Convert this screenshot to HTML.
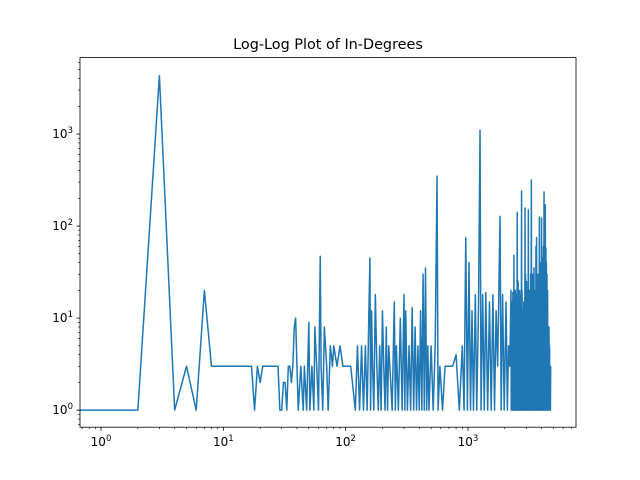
<!DOCTYPE html>
<html><head><meta charset="utf-8"><style>
body{margin:0;background:#fff}
svg{display:block;font-family:"DejaVu Sans","Liberation Sans",sans-serif}
</style></head><body>
<svg id="chart" width="640" height="480">
<text x="328" y="49" text-anchor="middle" font-size="14.4">Log-Log Plot of In-Degrees</text>
<g id="plot"></g>
</svg>
<script>
const xVals=[0.5,1,2,3,4,5,6,7,8,9,10,12,14,17,18,19,20,21,22,24,26,28,29,30,31,32,33,34,35,36,37,38,39,40,41,43,45,46,48,50,51,53,55,56,58,60,62,63,65,67,70,72,75,78,80,85,90,95,100,110,120,125,130,135,140,145,150,155,158,160,163,166,170,175,180,185,190,195,200,205,210,215,220,225,230,240,250,255,260,270,280,290,300,305,310,320,330,340,350,360,370,380,390,400,410,420,430,440,450,460,470,480,500,520,540,559,570,590,620,650,700,750,800,850,900,930,960,990,1020,1050,1080,1110,1150,1180,1220,1256,1280,1320,1360,1400,1450,1500,1550,1600,1650,1700,1750,1830,1870,1920,1980,2050,2100,2150,2200,
2250,2260,2270,2280,2290,2300,2310,2320,2330,2340,2350,2365,2377,2390,2400,2410,2420,2430,2440,2450,2460,2470,2480,2490,2500,2515,2530,2545,2555,2565,2576,2590,2600,2612,2625,2637,2650,2665,2680,2695,2710,2727,2745,2757,2770,2785,2800,2815,2830,2845,2860,2875,2890,2910,2930,2945,2960,2975,2990,3005,3020,3035,3050,3065,3080,3100,3120,3137,3155,3172,3190,3205,3220,3240,3260,3280,3300,3325,3350,3370,3390,3410,3430,3450,3470,3490,3510,3535,3560,3580,3600,3620,3640,3665,3690,3715,3740,3765,3790,3815,3840,3870,3900,3925,3950,3975,4000,4020,4040,4065,4090,4115,4140,4165,4190,4215,4240,4265,4290,4315,4340,4360,4380,4405,4430,4455,4480,4510,4540,4570,4600,4625,4650,4675,4700,4725,4750,4775,4800,4825,4850,4875,4900,4925,4950,4975,5000,5025,5050,5075,5100,5125,5150];
const yVals=[1,1,1,4300,1,3,1,20,3,3,3,3,3,3,1,3,2,3,3,3,3,3,1,1,2,2,1,3,3,2,3,8,10,3,1,3,1,3,1,9,1,3,1,8,3,1,47,3,1,8,3,1,5,3,5,3,5,3,3,3,1,5,1,5,1,5,1,12,45,1,12,3,1,18,3,1,5,1,12,3,1,8,1,5,3,1,15,1,5,1,10,1,18,1,12,1,5,1,13,1,8,1,5,1,12,1,30,1,35,1,5,1,5,1,5,350,1,3,1,3,3,3,4,1,5,1,75,1,40,1,12,1,18,1,13,1100,1,18,1,19,1,15,1,18,1,12,3,128,1,18,1,15,1,5,3,
20,1,8,1,15,1,6,1,19,1,10,1,48,1,12,1,8,1,20,1,10,1,18,1,9,1,140,1,10,1,25,1,12,1,8,1,20,1,12,1,18,1,240,1,20,1,12,1,10,1,15,1,8,1,157,1,30,1,18,1,25,1,12,1,20,1,150,1,8,1,20,1,18,1,30,1,316,1,25,1,30,1,12,1,35,1,12,1,20,1,60,1,75,1,18,1,30,1,25,1,125,1,40,1,20,1,122,1,30,1,45,1,60,1,235,1,80,1,170,1,58,1,40,1,30,1,20,1,5,1,8,1,5,1,3,1,3];
const xTicks=[1,10,100,1000], xTickExp=['0','1','2','3'];
const yTicks=[1,10,100,1000], yTickExp=['0','1','2','3'];
const L=80,R=576,T=57.6,B=427.2;
const lx0=Math.log10(0.673),lx1=Math.log10(7650),ly0=-0.185,ly1=3.83;
const sx=v=>L+(Math.log10(v)-lx0)/(lx1-lx0)*(R-L);
const sy=v=>B-(Math.log10(v)-ly0)/(ly1-ly0)*(B-T);
const NS='http://www.w3.org/2000/svg',g=document.getElementById('plot');
function mk(t,a){const e=document.createElementNS(NS,t);for(const k in a)e.setAttribute(k,a[k]);g.appendChild(e);return e;}
const cp=mk('clipPath',{id:'cp'});const cr=document.createElementNS(NS,'rect');cr.setAttribute('x',L);cr.setAttribute('y',T);cr.setAttribute('width',R-L);cr.setAttribute('height',B-T);cp.appendChild(cr);
let d='';xVals.forEach((x,i)=>{d+=(i?'L':'M')+sx(x).toFixed(2)+' '+sy(yVals[i]).toFixed(2);});
const line=mk('path',{d:d,fill:'none',stroke:'#1f77b4','stroke-width':1.5,'clip-path':'url(#cp)','stroke-linejoin':'round'});


const frame=mk('rect',{x:L,y:T,width:R-L,height:B-T,fill:'none',stroke:'#000','stroke-width':0.8});


for(let e=-1;e<=4;e++)for(let m=1;m<10;m++){const v=m*Math.pow(10,e);const X=sx(v);if(X>=L&&X<=R){mk('line',{x1:X,x2:X,y1:B,y2:B+(m==1?3.5:2),stroke:'#000','stroke-width':m==1?0.8:0.6});}
const Y=sy(v);if(Y>=T&&Y<=B){mk('line',{x1:L,x2:L-(m==1?3.5:2),y1:Y,y2:Y,stroke:'#000','stroke-width':m==1?0.8:0.6});}}
xTicks.forEach((v,i)=>{const t=mk('text',{x:sx(v),y:B+19,'text-anchor':'middle','font-size':12});t.textContent='10';const s=document.createElementNS(NS,'tspan');s.setAttribute('dy',-5);s.setAttribute('font-size',8.5);s.textContent=xTickExp[i];t.appendChild(s);

});
yTicks.forEach((v,i)=>{const t=mk('text',{x:L-7,y:sy(v)+4,'text-anchor':'end','font-size':12});t.textContent='10';const s=document.createElementNS(NS,'tspan');s.setAttribute('dy',-5);s.setAttribute('font-size',8.5);s.textContent=yTickExp[i];t.appendChild(s);

});
</script>
</body></html>
